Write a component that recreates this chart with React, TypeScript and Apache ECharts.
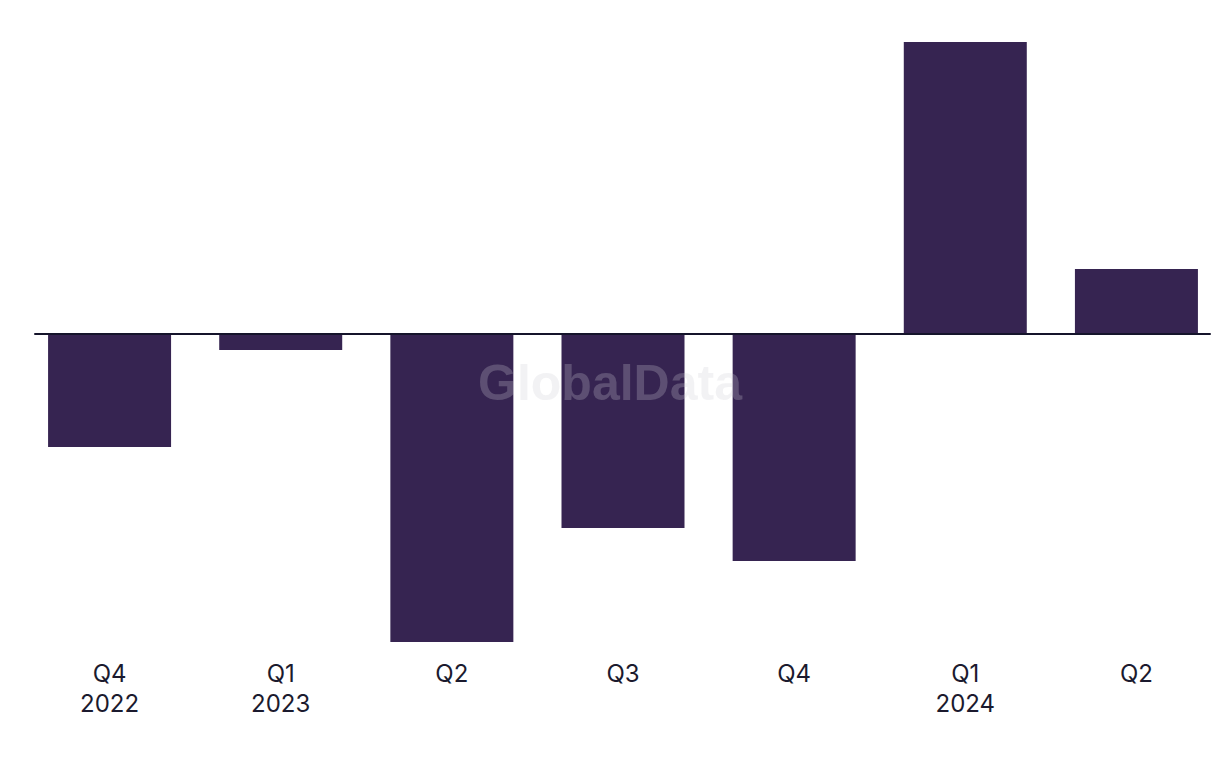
import React, { useEffect, useRef } from "react";
import * as echarts from "echarts";

const categories = ["Q4\n2022", "Q1\n2023", "Q2", "Q3", "Q4", "Q1\n2024", "Q2"];
const values = [-1.13, -0.16, -3.08, -1.94, -2.27, 2.92, 0.65];
const yMin = -3.1;
const yMax = 3.0;

export default function App() {
  const ref = useRef<HTMLDivElement>(null);
  useEffect(() => {
    if (!ref.current) return;
    const chart = echarts.init(ref.current, null, { renderer: "svg" });
    chart.setOption({
      animation: false,
      backgroundColor: "#ffffff",
      grid: [
        { left: 24, right: 8, top: 34, bottom: 124, containLabel: false },
        { left: 35, right: 20, top: 34, bottom: 124, containLabel: false },
      ],
      xAxis: [
        {
          type: "category",
          gridIndex: 0,
          data: categories,
          position: "bottom",
          axisLine: { show: false, onZero: false },
          axisTick: { show: false },
          axisLabel: {
            color: "#1b1a2e",
            fontSize: 24,
            lineHeight: 30,
            fontFamily: "Inter, 'Noto Sans', sans-serif",
            margin: 14,
            interval: 0,
          },
          splitLine: { show: false },
        },
        {
          type: "category",
          gridIndex: 1,
          data: categories,
          z: 5,
          axisLine: { show: true, onZero: true, lineStyle: { color: "#15142b", width: 2 } },
          axisTick: { show: false },
          axisLabel: { show: false },
          splitLine: { show: false },
        },
      ],
      yAxis: [
        {
          type: "value",
          gridIndex: 0,
          min: yMin,
          max: yMax,
          show: false,
          splitLine: { show: false },
        },
        {
          type: "value",
          gridIndex: 1,
          min: yMin,
          max: yMax,
          show: false,
          splitLine: { show: false },
        },
      ],
      graphic: [
        {
          type: "text",
          x: 610,
          y: 358,
          z: 100,
          style: {
            text: "GlobalData",
            align: "center",
            fontSize: 50,
            fontWeight: "bold",
            fontFamily: "'Liberation Sans', Arial, sans-serif",
            fill: "rgba(205,205,212,0.26)",
          },
        },
      ],
      series: [
        {
          type: "bar",
          xAxisIndex: 0,
          yAxisIndex: 0,
          data: values,
          barWidth: 123,
          z: 1,
          itemStyle: { color: "#362451" },
        },
      ],
    });
    return () => chart.dispose();
  }, []);
  return (
    <div
      style={{
        position: "fixed",
        left: 0,
        top: 0,
        width: 1220,
        height: 768,
        overflow: "hidden",
        background: "#ffffff",
      }}
    >
      <div ref={ref} style={{ width: 1230, height: 768 }} />
    </div>
  );
}
